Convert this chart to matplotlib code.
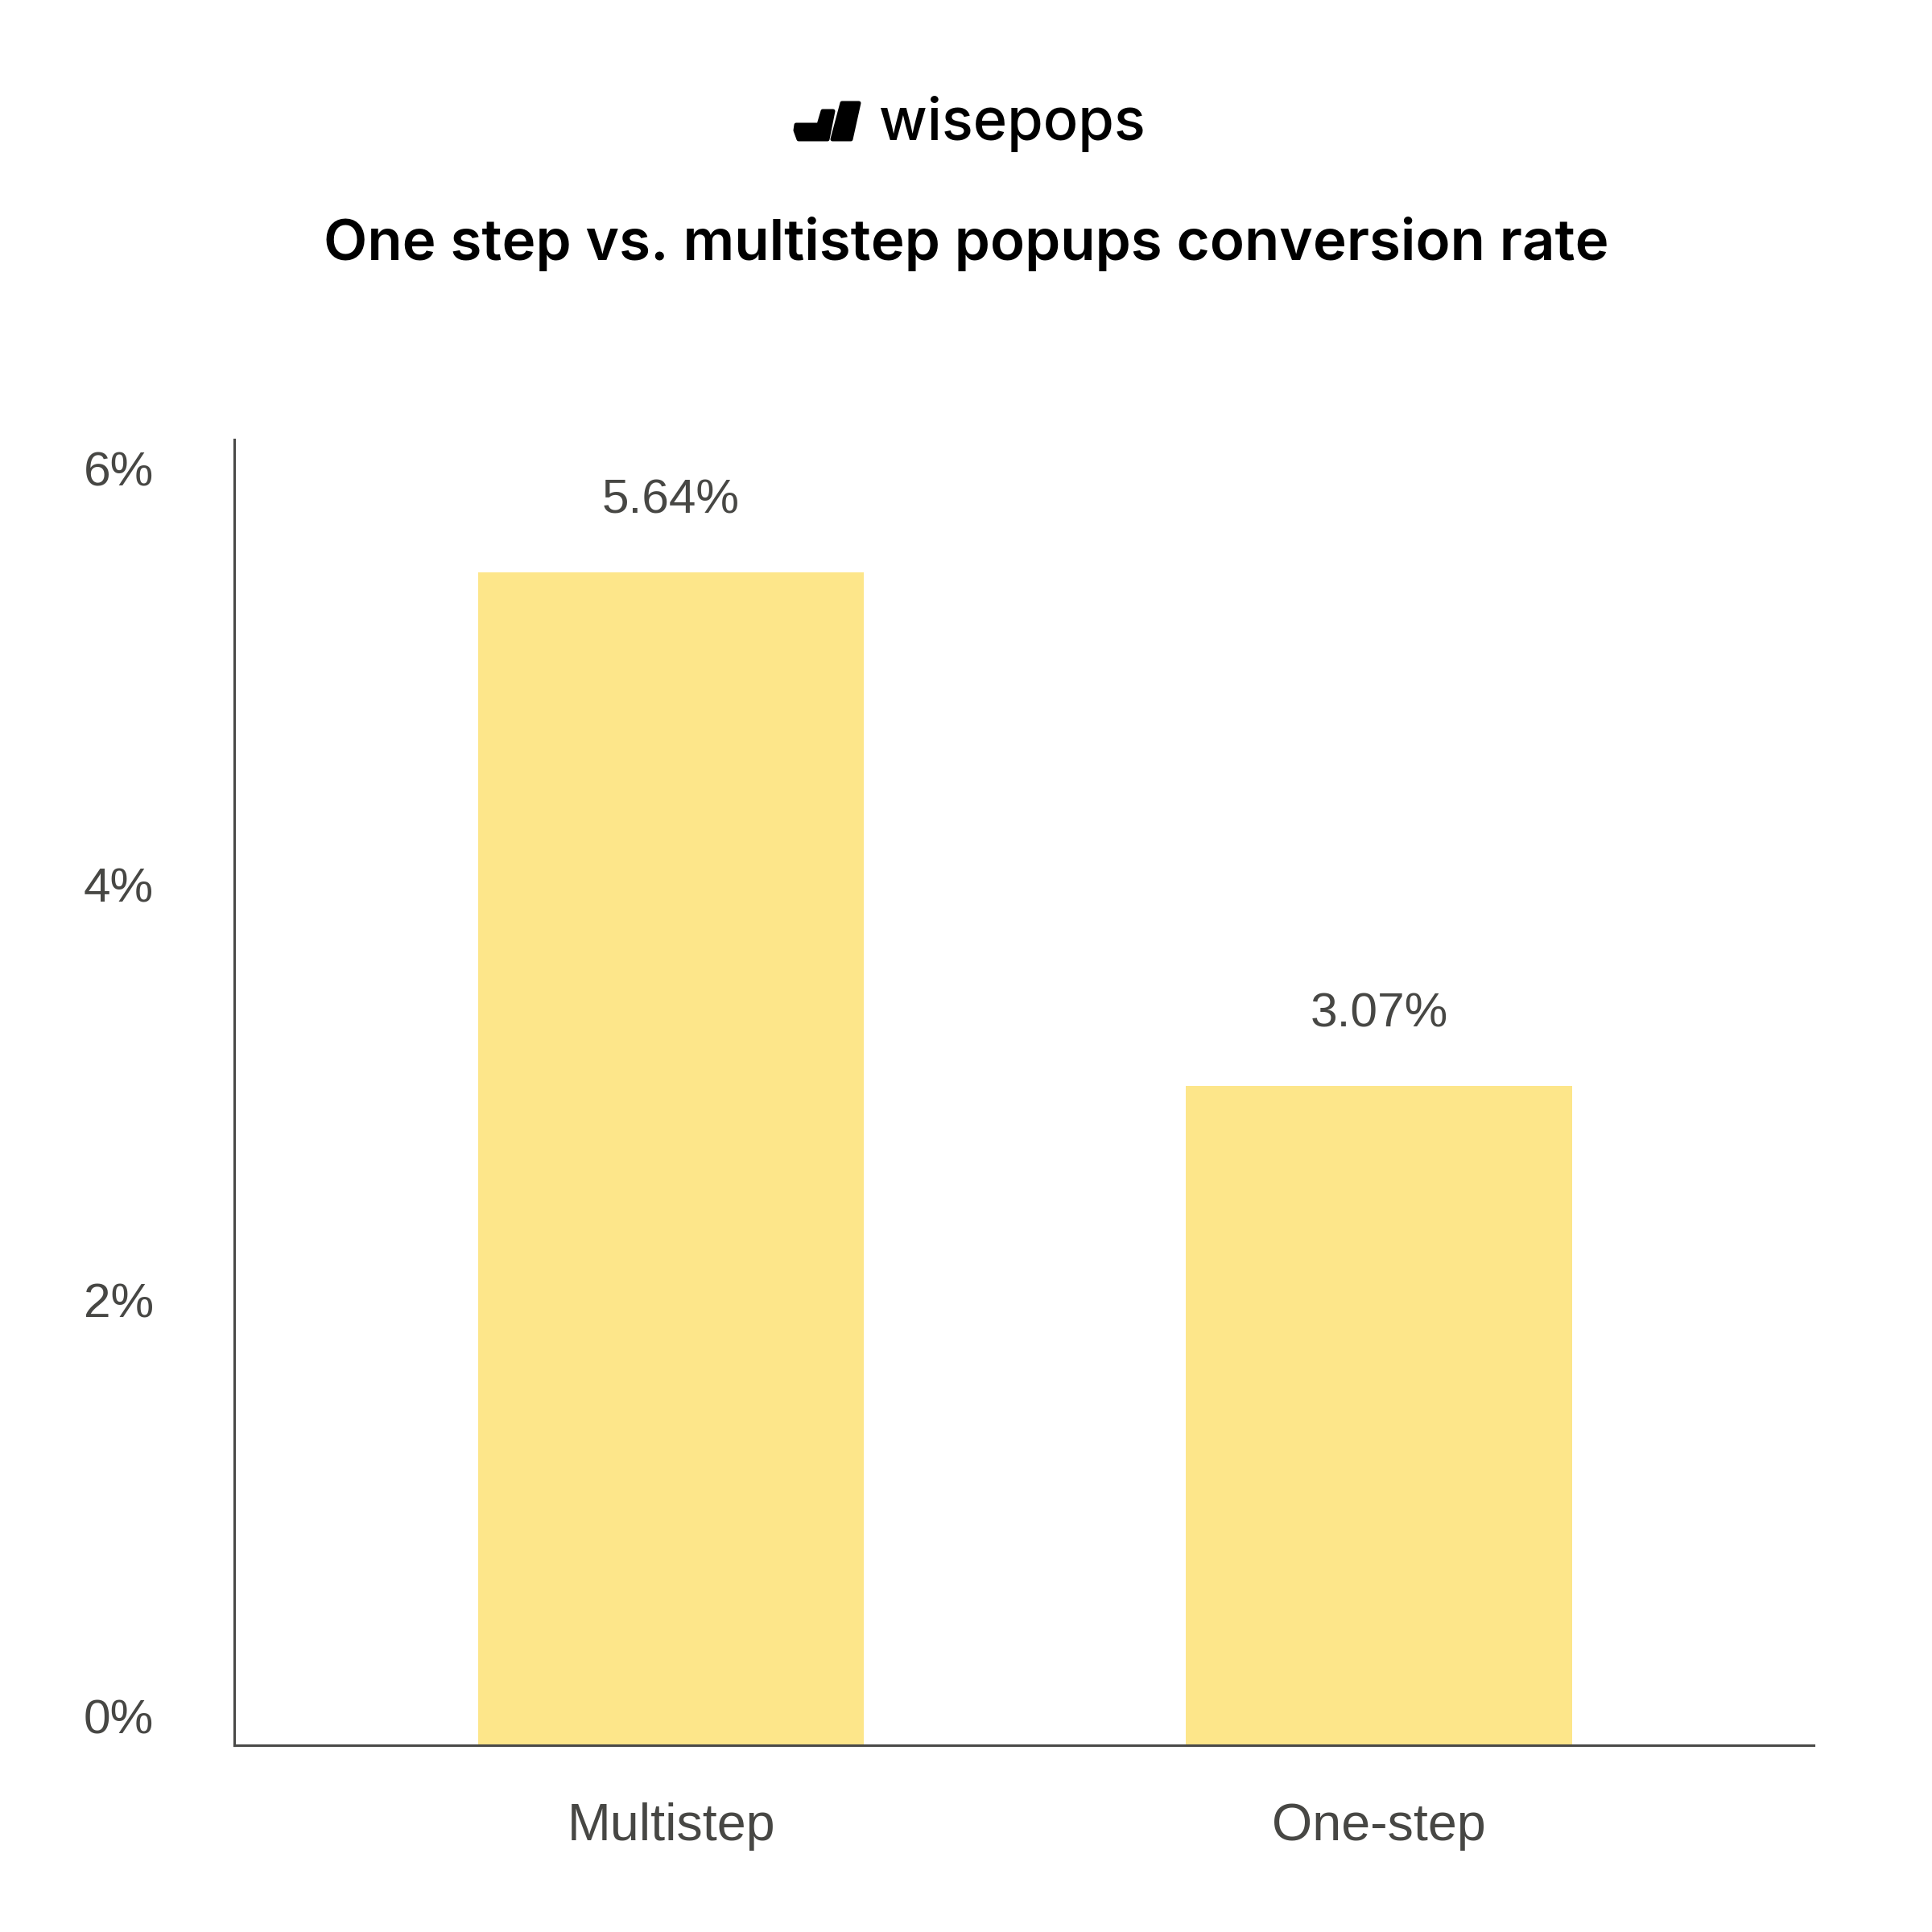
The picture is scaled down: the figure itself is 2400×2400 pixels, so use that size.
import matplotlib
matplotlib.use("Agg")
import matplotlib.pyplot as plt
import matplotlib.transforms as mtransforms
from matplotlib.patches import Polygon

# data
categories = ["Multistep", "One-step"]
bar_values = [5.64, 3.17]          # heights as drawn in the picture
value_labels = ["5.64%", "3.07%"]  # labels as printed on the picture
y_ticks = [0, 2, 4, 6]
y_tick_labels = ["0%", "2%", "4%", "6%"]

title = "One step vs. multistep popups conversion rate"
brand = "wisepops"

BAR_COLOR = "#FDE68A"
TEXT_COLOR = "#474744"
AXIS_COLOR = "#4a4a48"
LABEL_FONT = ["Liberation Sans", "DejaVu Sans"]
HEAD_FONT = ["Inter", "DejaVu Sans"]

plt.rcParams["font.family"] = LABEL_FONT

fig = plt.figure(figsize=(8, 8), dpi=300)
fig.patch.set_facecolor("white")

# axes box placed to match the reference (px / 2400)
ax = fig.add_axes([291 / 2400, 1 - 2168 / 2400, (2253 - 291) / 2400, (2168 - 546) / 2400])

x = list(range(len(categories)))
ax.bar(x, bar_values, width=0.545, color=BAR_COLOR, zorder=2)

for xi, v, lab in zip(x, bar_values, value_labels):
    ax.annotate(lab, (xi, v), xytext=(0, 21.5), textcoords="offset points",
                ha="center", va="center", fontsize=14.5, color=TEXT_COLOR)

ax.set_xlim(-0.617, 1.614)
ax.set_ylim(0, 6.28)

ax.set_xticks(x)
ax.set_xticklabels(categories, fontsize=15.5, color=TEXT_COLOR)
ax.set_yticks(y_ticks)
ax.set_yticklabels(y_tick_labels, fontsize=14.5, color=TEXT_COLOR)
ax.tick_params(axis="both", length=0)
ax.tick_params(axis="y", pad=24)
ax.tick_params(axis="x", pad=17)

# y labels sit a bit above their value
shift = mtransforms.ScaledTranslation(0, 36 / 300, fig.dpi_scale_trans)
for lbl in ax.get_yticklabels():
    lbl.set_transform(lbl.get_transform() + shift)

for side in ["top", "right"]:
    ax.spines[side].set_visible(False)
for side in ["left", "bottom"]:
    ax.spines[side].set_color(AXIS_COLOR)
    ax.spines[side].set_linewidth(0.75)

# title
fig.text(0.5, 1 - 303 / 2400, title, ha="center", va="center", family=HEAD_FONT,
         fontsize=17, fontweight="semibold", color="black")

# brand logo: two slanted marks + word
def px(xp, yp):
    return (xp / 2400, 1 - yp / 2400)

mark1 = [px(989, 155), px(1017, 155), px(1022, 138), px(1035, 138),
         px(1028, 173), px(992, 173), px(988, 162)]
mark2 = [px(1046, 128), px(1067, 128), px(1057, 173), px(1034, 173)]
for pts in (mark1, mark2):
    fig.patches.append(Polygon(pts, closed=True, transform=fig.transFigure,
                               facecolor="black", edgecolor="black",
                               linewidth=1.2, joinstyle="round"))

fig.text(1092 / 2400, 1 - 174 / 2400, brand, ha="left", va="baseline", family=HEAD_FONT,
         fontsize=17.3, fontweight="medium", color="black")

fig.savefig("out.png", dpi=300, facecolor="white")
